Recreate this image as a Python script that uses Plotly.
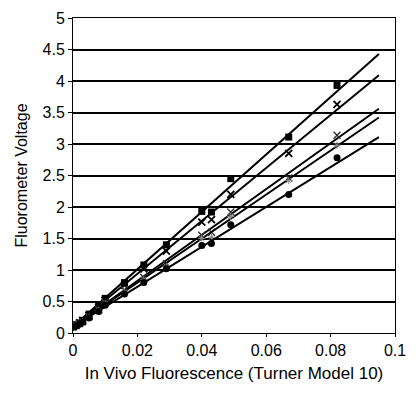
import plotly.graph_objects as go

x_vals = [0, 0.001, 0.002, 0.003, 0.005, 0.008, 0.01, 0.016, 0.022, 0.029, 0.04, 0.043, 0.049, 0.067, 0.082]
sq_vals = [0.1, 0.13, 0.16, 0.2, 0.3, 0.43, 0.55, 0.8, 1.08, 1.4, 1.93, 1.92, 2.45, 3.11, 3.93]
ast_vals = [0.1, 0.13, 0.16, 0.2, 0.28, 0.41, 0.52, 0.76, 1.02, 1.3, 1.76, 1.8, 2.2, 2.85, 3.63]
x_series = [0.1, 0.12, 0.15, 0.18, 0.26, 0.37, 0.48, 0.68, 0.88, 1.1, 1.55, 1.6, 1.92, 2.46, 3.14]
tri_vals = [0.09, 0.12, 0.14, 0.18, 0.25, 0.36, 0.46, 0.65, 0.85, 1.06, 1.5, 1.52, 1.85, 2.42, 2.98]
circ_vals = [0.09, 0.11, 0.14, 0.17, 0.24, 0.34, 0.44, 0.62, 0.8, 1.02, 1.39, 1.42, 1.72, 2.2, 2.78]

trend_x = [0, 0.095]
trend_start = [0.1, 0.1, 0.1, 0.1, 0.1]
trend_end = [4.43, 4.09, 3.56, 3.42, 3.11]

series = [
    (sq_vals, dict(symbol="square", size=7, color="black")),
    (ast_vals, dict(symbol="x-thin-open", size=7, color="black", line=dict(width=1.8, color="black"))),
    (x_series, dict(symbol="x-thin-open", size=7, color="#333", line=dict(width=1.4, color="#333"))),
    (tri_vals, dict(symbol="asterisk-open", size=6, color="#888", line=dict(width=1, color="#888"))),
    (circ_vals, dict(symbol="circle", size=7, color="black")),
]

fig = go.Figure()
for i, (vals, mk) in enumerate(series):
    fig.add_trace(go.Scatter(x=trend_x, y=[trend_start[i], trend_end[i]], mode="lines",
                             line=dict(color="black", width=2), showlegend=False, hoverinfo="skip"))
    fig.add_trace(go.Scatter(x=x_vals, y=vals, mode="markers", marker=mk, showlegend=False))

font = "Liberation Sans, Arial, sans-serif"
fig.update_layout(
    width=416, height=396,
    margin=dict(l=73, r=12, t=10, b=63),
    paper_bgcolor="white", plot_bgcolor="white",
    font=dict(family=font, size=16, color="black"),
)
fig.update_xaxes(
    range=[0, 0.1], dtick=0.02, tickformat="~g",
    showgrid=False, zeroline=False,
    showline=True, linecolor="black", linewidth=1, mirror=True,
    ticks="outside", ticklen=3, tickcolor="black",
    tickfont=dict(size=16),
    title=dict(text="In Vivo Fluorescence (Turner Model 10)", font=dict(size=17), standoff=8),
)
fig.update_yaxes(
    range=[0, 5], dtick=0.5, tickformat="~g",
    showgrid=True, gridcolor="black", gridwidth=1.5, zeroline=False,
    showline=True, linecolor="black", linewidth=1, mirror=True,
    ticks="outside", ticklen=4, tickcolor="black",
    tickfont=dict(size=16),
    title=dict(text="Fluorometer Voltage", font=dict(size=16), standoff=10),
)
fig.write_html("out.html")
